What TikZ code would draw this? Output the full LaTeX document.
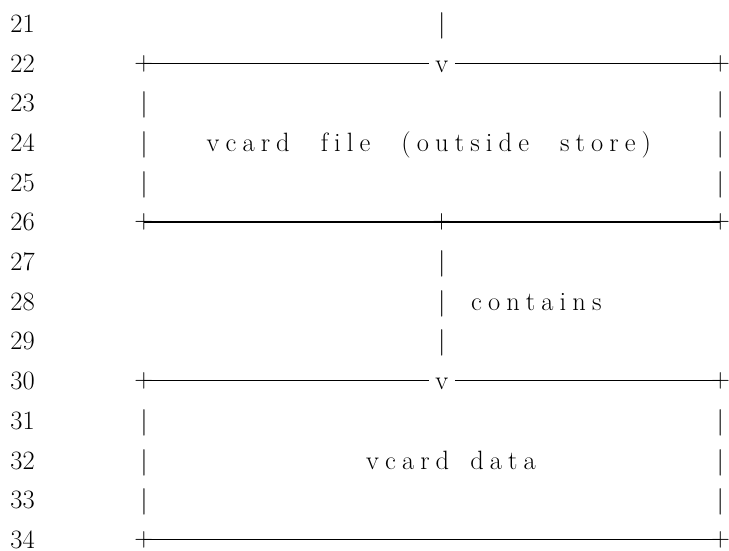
\documentclass[tikz,border=0pt]{standalone}
\usepackage{fontspec}
\newdimen\lsk \lsk=6.1pt
\def\lsend{}
\def\lsw#1{\lswi#1\lsend}
\def\lswi#1#2\lsend{#1\ifx\relax#2\relax\else\kern\lsk\lswi#2\lsend\fi}
\newcommand\wgap{\hspace{23pt} }
\begin{document}
\begin{tikzpicture}[x=1pt,y=-1pt,
  every node/.style={font=\fontsize{26.5}{30}\selectfont, inner sep=0pt},
  lnum/.style={anchor=base west},
  plusch/.style={anchor=center},
  vch/.style={anchor=base, inner xsep=6.5pt},
  barch/.style={anchor=base},
  txt/.style={anchor=base west},
  rule/.style={line width=1.1pt}
]
\useasboundingbox (0,0) rectangle (729,550);
\def\xl{144}\def\xm{441.7}\def\xr{720.3}
% line numbers
\foreach \r in {21,...,34}{
  \node[lnum] (n\r) at (10.2,{72.0+(\r-22)*39.7}) {\r};
}
% row 21 bar
\node[barch] (b21) at (\xm,32.3) {|};
% row 22
\node[plusch] (p22l) at (\xl,63.4) {+};
\node[vch] (v22) at (\xm,72.0) {v};
\node[plusch] (p22r) at (\xr,63.4) {+};
\draw[rule] (p22l.center) -- (v22.west |- p22l.center);
\draw[rule] (v22.east |- p22r.center) -- (p22r.center);
% rows 23-25
\node[barch] (b23l) at (\xl,111.7) {|};
\node[barch] (b23r) at (\xr,111.7) {|};
\node[barch] (b24l) at (\xl,151.4) {|};
\node[barch] (b24r) at (\xr,151.4) {|};
\node[barch] (b25l) at (\xl,191.1) {|};
\node[barch] (b25r) at (\xr,191.1) {|};
\node[txt] (t24) at (206.5,151.4) {\lsw{vcard}\wgap\lsw{file}\wgap\lsw{(outside}\wgap\lsw{store)}};
% row 26
\node[plusch] (p26l) at (\xl,222.0) {+};
\node[plusch] (p26m) at (\xm,222.0) {+};
\node[plusch] (p26r) at (\xr,222.0) {+};
\draw[rule] (p26l.center) -- (p26m.center) -- (p26r.center);
% rows 27-29
\node[barch] (b27) at (\xm,270.5) {|};
\node[barch] (b28) at (\xm,310.2) {|};
\node[barch] (b29) at (\xm,349.9) {|};
\node[txt] (t28) at (471,310.2) {\lsw{contains}};
% row 30
\node[plusch] (p30l) at (\xl,380.9) {+};
\node[vch] (v30) at (\xm,389.6) {v};
\node[plusch] (p30r) at (\xr,380.9) {+};
\draw[rule] (p30l.center) -- (v30.west |- p30l.center);
\draw[rule] (v30.east |- p30r.center) -- (p30r.center);
% rows 31-33
\node[barch] (b31l) at (\xl,429.3) {|};
\node[barch] (b31r) at (\xr,429.3) {|};
\node[barch] (b32l) at (\xl,469.0) {|};
\node[barch] (b32r) at (\xr,469.0) {|};
\node[barch] (b33l) at (\xl,508.7) {|};
\node[barch] (b33r) at (\xr,508.7) {|};
\node[txt] (t32) at (366,469.0) {\lsw{vcard}\hspace{13pt} \lsw{data}};
% row 34
\node[plusch] (p34l) at (\xl,539.7) {+};
\node[plusch] (p34r) at (\xr,539.7) {+};
\draw[rule] (p34l.center) -- (p34r.center);
\end{tikzpicture}
\end{document}
